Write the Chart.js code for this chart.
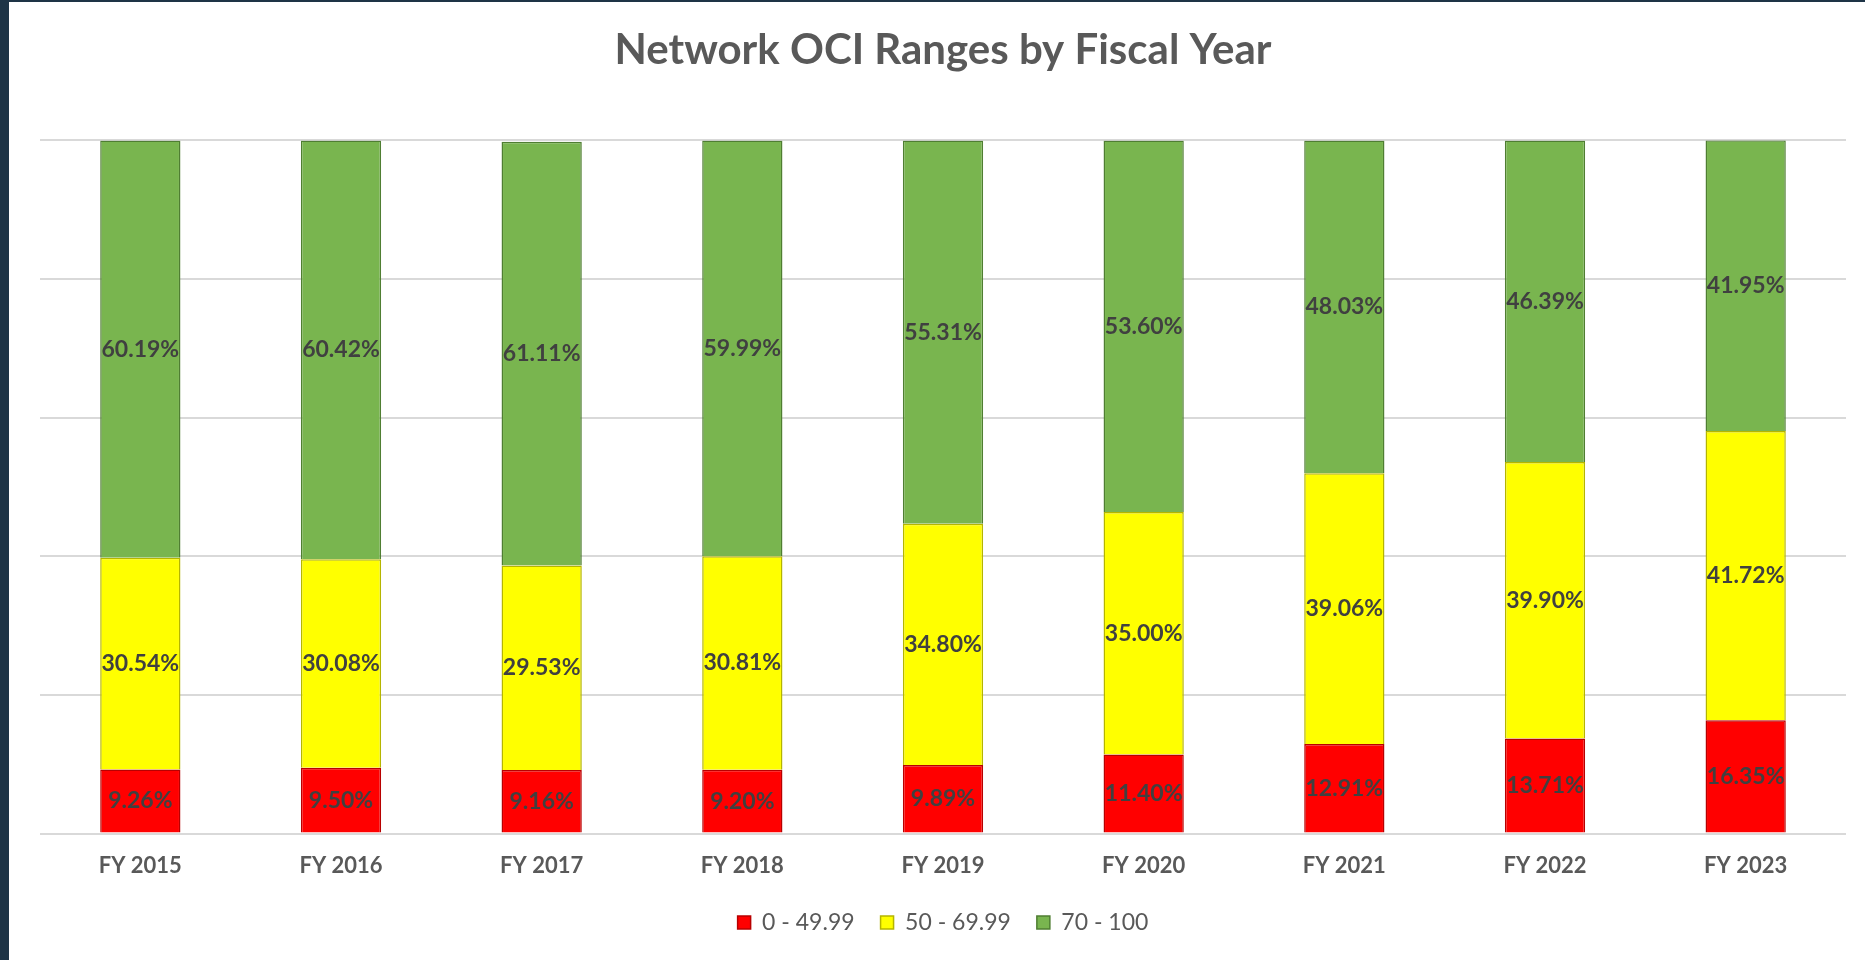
<!DOCTYPE html>
<html>
<head>
<meta charset="utf-8">
<script src="https://cdn.jsdelivr.net/npm/chart.js@4.4.1/dist/chart.umd.min.js"></script>
<style>
  html, body { margin: 0; padding: 0; background: #ffffff; }
  #frame {
    width: 1856px; height: 958px;
    border-left: 9px solid #1e3446;
    border-top: 2px solid #1e3446;
    background: #fff;
  }
  #wrap { position: relative; width: 1856px; height: 958px; }
</style>
</head>
<body>
<div id="frame"><div id="wrap"><canvas id="ociChart"></canvas></div></div>
<script>
// --- data
const years = ['FY 2015', 'FY 2016', 'FY 2017', 'FY 2018', 'FY 2019', 'FY 2020', 'FY 2021', 'FY 2022', 'FY 2023'];
const rangeLabels = ['0 - 49.99', '50 - 69.99', '70 - 100'];
const low = [9.26, 9.50, 9.16, 9.20, 9.89, 11.40, 12.91, 13.71, 16.35];
const mid = [30.54, 30.08, 29.53, 30.81, 34.80, 35.00, 39.06, 39.90, 41.72];
const high = [60.19, 60.42, 61.11, 59.99, 55.31, 53.60, 48.03, 46.39, 41.95];

const FONT = 'Lato, "Open Sans", sans-serif';

// draws the value in the middle of every segment
const segmentLabels = {
  id: 'segmentLabels',
  afterDatasetsDraw(chart) {
    const ctx = chart.ctx;
    ctx.save();
    ctx.font = 'bold 23px ' + FONT;
    ctx.fillStyle = '#404040';
    ctx.textAlign = 'center';
    ctx.textBaseline = 'middle';
    chart.data.datasets.forEach(function (ds, i) {
      chart.getDatasetMeta(i).data.forEach(function (bar, j) {
        const yMid = (bar.y + bar.base) / 2;
        ctx.fillText(ds.data[j].toFixed(2) + '%', bar.x, yMid);
      });
    });
    ctx.restore();
  }
};

const data = {
  labels: years,
  datasets: [
    { label: rangeLabels[0], data: low, backgroundColor: '#ff0000', borderColor: '#b80000', borderWidth: 1.5 },
    { label: rangeLabels[1], data: mid, backgroundColor: '#ffff00', borderColor: '#b5b500', borderWidth: 1.5 },
    { label: rangeLabels[2], data: high, backgroundColor: '#79b54f', borderColor: '#4f7e32', borderWidth: 1.5 }
  ]
};

const config = {
  type: 'bar',
  data: data,
  plugins: [segmentLabels],
  options: {
    responsive: true,
    maintainAspectRatio: false,
    animation: false,
    layout: { padding: { left: 31, right: 19, bottom: 16 } },
    datasets: { bar: { barPercentage: 0.4, categoryPercentage: 1 } },
    scales: {
      x: {
        stacked: true,
        grid: { display: false },
        border: { display: false },
        ticks: { color: '#595959', font: { family: FONT, size: 22, weight: 'bold' }, padding: 11 },
        afterFit: function (scale) { scale.height -= 5; }
      },
      y: {
        stacked: true,
        min: 0, max: 100,
        ticks: { display: false, stepSize: 20 },
        border: { display: false },
        grid: { color: '#d9d9d9', lineWidth: 2, drawTicks: false }
      }
    },
    plugins: {
      title: {
        display: true,
        text: 'Network OCI Ranges by Fiscal Year',
        color: '#595959',
        font: { family: FONT, size: 42, weight: 'bold' },
        padding: { top: 23, bottom: 65 }
      },
      legend: {
        position: 'bottom',
        labels: {
          color: '#595959',
          font: { family: FONT, size: 23 },
          boxWidth: 13, boxHeight: 13, padding: 26
        }
      },
      tooltip: { enabled: false }
    }
  }
};

new Chart(document.getElementById('ociChart'), config);
</script>
</body>
</html>
